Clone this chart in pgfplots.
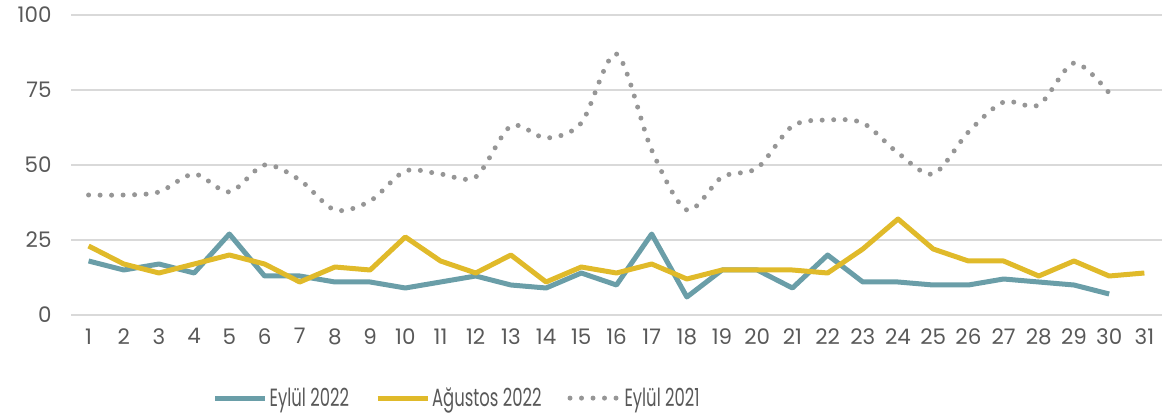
\documentclass[border=0pt]{standalone}
\usepackage{fontspec}
\setmainfont{Poppins}
\newfontfamily\legfont[FakeStretch=0.66]{Poppins}
\usepackage{pgfplots}
\pgfplotsset{compat=1.18}
\definecolor{teal1}{HTML}{6A9EA8}
\definecolor{gold1}{HTML}{E0BA2A}
\definecolor{dotgray}{HTML}{969696}
\definecolor{gridc}{HTML}{D9D9D9}
\definecolor{txt}{HTML}{595959}
\begin{document}
\begin{tikzpicture}
\useasboundingbox (0,0) rectangle (1172bp,417bp);
\begin{axis}[
  at={(71bp,102bp)}, anchor=south west,
  scale only axis, width=1091bp, height=300bp,
  xmin=0.5, xmax=31.5, ymin=0, ymax=100,
  xtick={1,...,31}, ytick={0,25,50,75,100},
  axis line style={draw=none},
  major tick length=0pt,
  ymajorgrids, grid style={gridc, line width=1.5bp},
  tick label style={font=\fontsize{21.5}{24}\selectfont, text=txt},
  /pgf/number format/assume math mode=true,
  yticklabel style={xshift=-16bp},
  xticklabel style={yshift=-10bp},
  legend columns=3,
  legend style={at={(0.354,-0.277)}, anchor=center, draw=none, fill=none,
    font=\legfont\fontsize{25}{28}\selectfont, text=txt,
    /tikz/every even column/.append style={column sep=24bp}},
  legend cell align=left,
  legend image code/.code={\draw[#1] (0bp,0bp) -- (50bp,0bp);},
]
\addplot[teal1, line width=5bp, line join=round] coordinates {
(1,18)(2,15)(3,17)(4,14)(5,27)(6,13)(7,13)(8,11)(9,11)(10,9)
(11,11)(12,13)(13,10)(14,9)(15,14)(16,10)(17,27)(18,6)(19,15)(20,15)
(21,9)(22,20)(23,11)(24,11)(25,10)(26,10)(27,12)(28,11)(29,10)(30,7)};
\addlegendentry{Eylül 2022}
\addplot[gold1, line width=5bp, line join=round] coordinates {
(1,23)(2,17)(3,14)(4,17)(5,20)(6,17)(7,11)(8,16)(9,15)(10,26)
(11,18)(12,14)(13,20)(14,11)(15,16)(16,14)(17,17)(18,12)(19,15)(20,15)
(21,15)(22,14)(23,22)(24,32)(25,22)(26,18)(27,18)(28,13)(29,18)(30,13)(31,14)};
\addlegendentry{Ağustos 2022}
\addplot[dotgray, line width=5bp, line cap=round, dash pattern=on 0bp off 11.5bp, smooth, tension=0.5] coordinates {
(1,40)(2,40)(3,41)(4,47)(5,41)(6,50)(7,45)(8,35)(9,38)(10,48)
(11,47)(12,46)(13,63)(14,59)(15,64)(16,87)(17,55)(18,35)(19,46)(20,49)
(21,63)(22,65)(23,64)(24,54)(25,47)(26,61)(27,71)(28,70)(29,84)(30,74)};
\addlegendentry{Eylül 2021}
\end{axis}
\end{tikzpicture}
\end{document}
